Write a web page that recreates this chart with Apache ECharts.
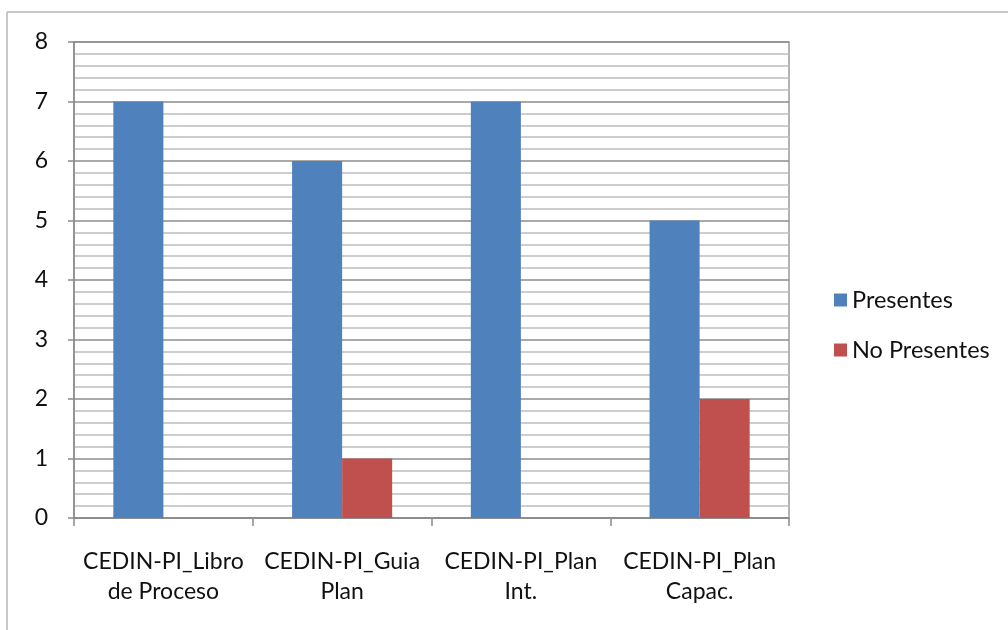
<!DOCTYPE html>
<html>
<head>
<meta charset="utf-8">
<script src="https://cdn.jsdelivr.net/npm/echarts@6/dist/echarts.min.js"></script>
<style>
  html, body { margin: 0; padding: 0; background: #ffffff; }
  #chart { width: 1008px; height: 630px; }
</style>
</head>
<body>
<div id="chart"></div>
<script>
// Documents and how many participants were present / not present
const categories = [
  'CEDIN-PI_Libro\nde Proceso',
  'CEDIN-PI_Guia\nPlan',
  'CEDIN-PI_Plan\nInt.',
  'CEDIN-PI_Plan\nCapac.'
];
const presentes = [7, 6, 7, 5];
const noPresentes = [0, 1, 0, 2];
const seriesNames = ['Presentes', 'No Presentes'];

const FONT = 'Lato, "Open Sans", sans-serif';

const chart = echarts.init(document.getElementById('chart'), null, { renderer: 'canvas' });

chart.setOption({
  animation: false,
  backgroundColor: '#ffffff',
  textStyle: { fontFamily: FONT },
  grid: {
    left: 74, right: 219, top: 42, bottom: 112,
    show: true, borderColor: '#9a9a9a', borderWidth: 1.5, backgroundColor: 'transparent'
  },
  legend: {
    orient: 'vertical',
    left: 829,
    top: 283,
    itemWidth: 13,
    itemHeight: 13,
    itemGap: 26,
    icon: 'rect',
    textStyle: { fontFamily: FONT, fontSize: 23.5, color: '#111', lineHeight: 24, padding: [0, 0, 0, 0] },
    data: seriesNames
  },
  xAxis: {
    type: 'category',
    data: categories,
    axisLine: { show: true, lineStyle: { color: '#8a8a8a', width: 1.5 } },
    axisTick: { show: true, length: 8, lineStyle: { color: '#8a8a8a', width: 1.5 } },
    axisLabel: {
      fontFamily: FONT, fontSize: 23, color: '#111', lineHeight: 30, margin: 29, interval: 0
    },
    splitLine: { show: false }
  },
  yAxis: {
    type: 'value',
    min: 0, max: 8, interval: 1,
    axisLine: { show: true, lineStyle: { color: '#8a8a8a', width: 1.5 } },
    axisTick: { show: true, length: 6, lineStyle: { color: '#8a8a8a', width: 1.5 } },
    axisLabel: { fontFamily: FONT, fontSize: 23, color: '#111', margin: 26 },
    splitLine: { show: true, lineStyle: { color: '#8c8c8c', width: 1.5 } },
    minorTick: { show: false, splitNumber: 5 },
    minorSplitLine: { show: true, lineStyle: { color: '#bdbdbd', width: 1.5 } }
  },
  series: [
    {
      name: seriesNames[0],
      type: 'bar',
      data: presentes,
      barGap: '0%',
      barCategoryGap: '44%',
      itemStyle: { color: '#4F81BD' }
    },
    {
      name: seriesNames[1],
      type: 'bar',
      data: noPresentes,
      itemStyle: { color: '#C0504D' }
    }
  ],
  graphic: [
    { type: 'line', shape: { x1: 7, y1: 12, x2: 1008, y2: 12 }, style: { stroke: '#c8c8c8', lineWidth: 2 } },
    { type: 'line', shape: { x1: 7, y1: 12, x2: 7, y2: 630 }, style: { stroke: '#c8c8c8', lineWidth: 2 } }
  ]
});
</script>
</body>
</html>
